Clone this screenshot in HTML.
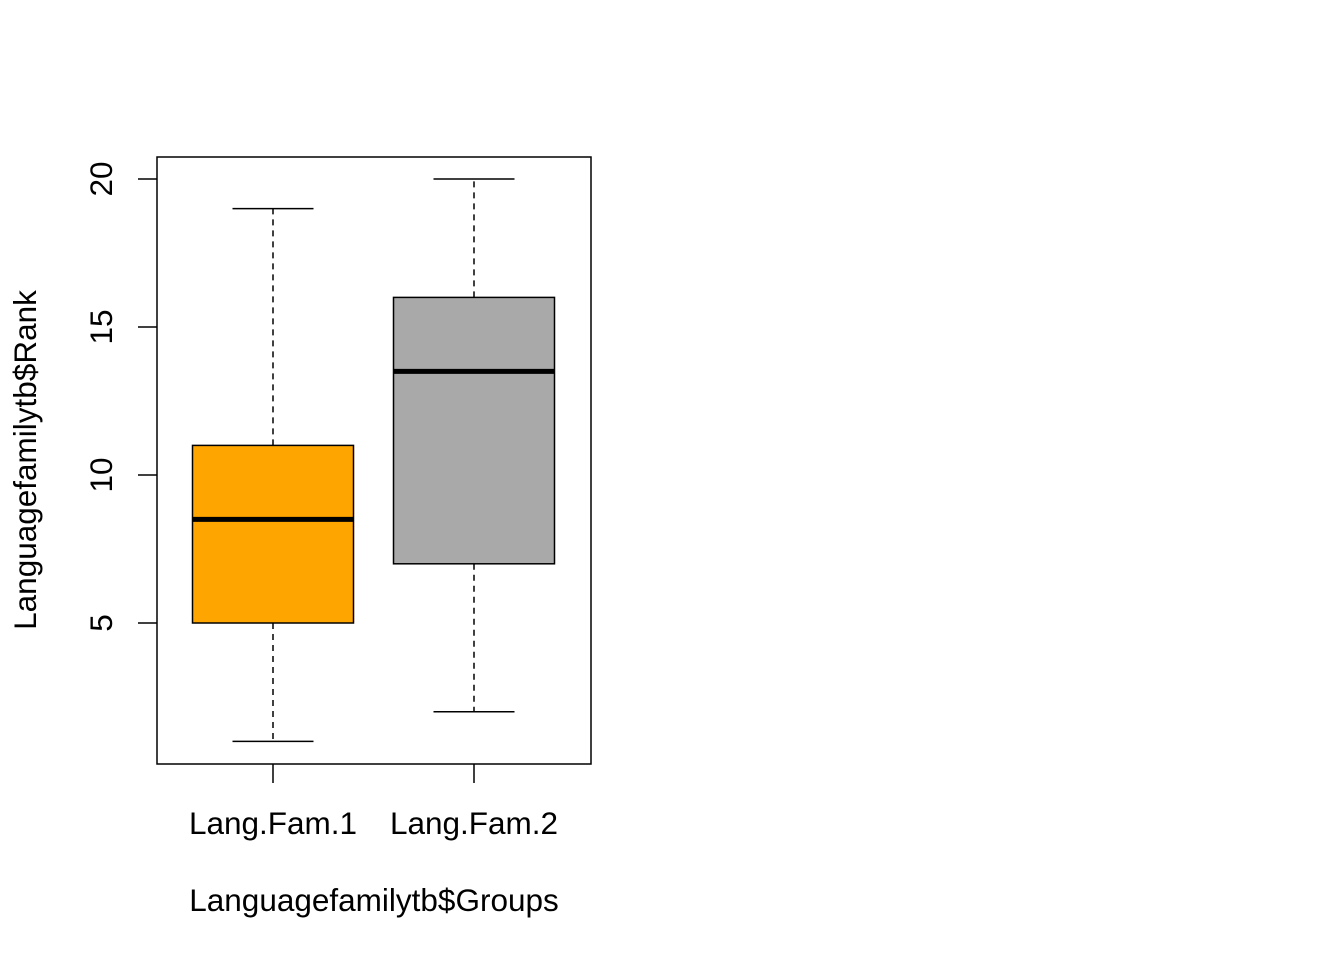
<!DOCTYPE html>
<html><head><meta charset="utf-8"><style>
html,body{margin:0;padding:0;background:#fff;}
svg{display:block;font-family:"Liberation Sans",Arial,sans-serif;}
</style></head><body>
<svg id="chart" width="1344" height="960" viewBox="0 0 1344 960">
<rect x="157" y="157" width="434" height="607" fill="none" stroke="#000" stroke-width="1.5"/>
<g id="marks"></g>
<g id="axes"></g>
<text x="374" y="911" font-size="31.5" text-anchor="middle">Languagefamilytb$Groups</text>
<text transform="translate(36,460) rotate(-90)" font-size="31.5" text-anchor="middle">Languagefamilytb$Rank</text>
</svg>
<script>
const categories = ["Lang.Fam.1", "Lang.Fam.2"];
const whiskerLow = [1, 2];
const q1 = [5, 7];
const median = [8.5, 13.5];
const q3 = [11, 16];
const whiskerHigh = [19, 20];
const colors = ["#FFA500", "#A9A9A9"];
const yTicks = [5, 10, 15, 20];

const NS = "http://www.w3.org/2000/svg";
function y(v){ return 623 + (v - 5) * (179 - 623) / 15; }
function x(i){ return 273 + i * 201; }
function mk(tag, attrs, parent){
  const e = document.createElementNS(NS, tag);
  for (const k in attrs) e.setAttribute(k, attrs[k]);
  parent.appendChild(e);
  return e;
}
const marks = document.getElementById("marks");
const axes = document.getElementById("axes");
const halfBox = 80.5, halfCap = 40.5;

categories.forEach((c, i) => {
  const cx = x(i);
  const g = mk("g", {}, marks);
  
  
  const wl = mk("line", {x1: cx, x2: cx, y1: y(q1[i]), y2: y(whiskerLow[i]), stroke: "#000", "stroke-width": 1.5, "stroke-dasharray": "6,5"}, g);
  
  
  const wh = mk("line", {x1: cx, x2: cx, y1: y(q3[i]), y2: y(whiskerHigh[i]), stroke: "#000", "stroke-width": 1.5, "stroke-dasharray": "6,5"}, g);
  
  
  const cl = mk("line", {x1: cx - halfCap, x2: cx + halfCap, y1: y(whiskerLow[i]), y2: y(whiskerLow[i]), stroke: "#000", "stroke-width": 1.5}, g);
  
  
  const ch = mk("line", {x1: cx - halfCap, x2: cx + halfCap, y1: y(whiskerHigh[i]), y2: y(whiskerHigh[i]), stroke: "#000", "stroke-width": 1.5}, g);
  
  
  const r = mk("rect", {x: cx - halfBox, y: y(q3[i]), width: 2 * halfBox, height: y(q1[i]) - y(q3[i]), fill: colors[i], stroke: "#000", "stroke-width": 1.5}, g);
  
  
  const m = mk("line", {x1: cx - halfBox, x2: cx + halfBox, y1: y(median[i]), y2: y(median[i]), stroke: "#000", "stroke-width": 5}, g);
  
  
  const t = mk("line", {x1: cx, x2: cx, y1: 764, y2: 783, stroke: "#000", "stroke-width": 1.5}, axes);
  
  
  const lb = mk("text", {x: cx, y: 834, "font-size": 31.5, "text-anchor": "middle"}, axes);
  lb.textContent = c;
  
  
});

yTicks.forEach(v => {
  const t = mk("line", {x1: 138, x2: 157, y1: y(v), y2: y(v), stroke: "#000", "stroke-width": 1.5}, axes);
  
  
  const lb = mk("text", {transform: "translate(112," + y(v) + ") rotate(-90)", "font-size": 31.5, "text-anchor": "middle"}, axes);
  lb.textContent = v;
  
  
});
</script>
</body></html>
